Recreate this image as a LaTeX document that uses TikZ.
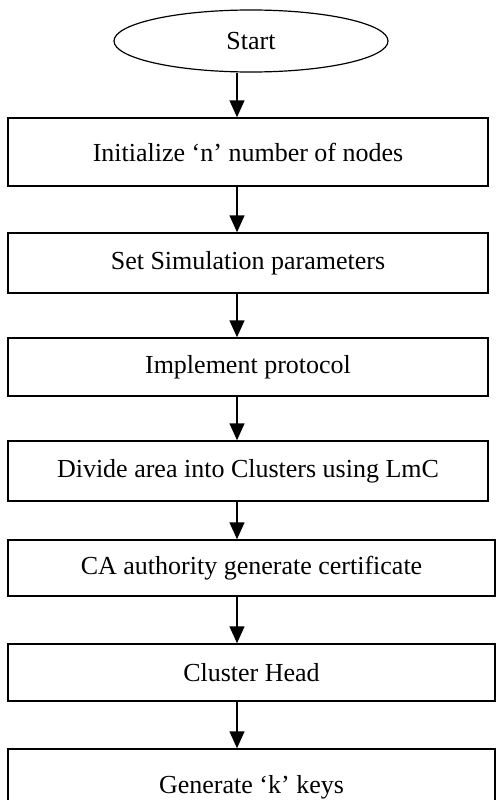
\documentclass[tikz,border=0pt]{standalone}
\usepackage{fontspec}
\setmainfont{Liberation Serif}
\usetikzlibrary{shapes.geometric,arrows.meta}
\tikzset{
  stepbox/.style={draw=black, line width=1.5pt, rectangle, inner sep=0pt, align=center,
    font=\fontsize{26}{30}\selectfont},
  startnode/.style={draw=black, line width=1.2pt, ellipse, inner sep=0pt,
    minimum width=274pt, minimum height=62pt, font=\fontsize{26}{30}\selectfont},
  arr/.style={line width=1.5pt, -{Triangle[length=17pt,width=15pt]}}
}
\begin{document}
\begin{tikzpicture}[x=1pt,y=-1pt]
\clip (0,0) rectangle (496,800);
\useasboundingbox (0,0) rectangle (496,800);
\coordinate (ax) at (237,0);
\node[startnode] (start) at (251,41) {Start};
\node[stepbox, minimum width=480pt, minimum height=68pt] (b1) at (248,152) {Initialize ‘n’ number of nodes};
\node[stepbox, minimum width=480pt, minimum height=60pt] (b2) at (248,263) {Set Simulation parameters};
\node[stepbox, minimum width=480pt, minimum height=58pt] (b3) at (248,367) {Implement protocol};
\node[stepbox, minimum width=480pt, minimum height=60pt] (b4) at (248,471) {Divide area into Clusters using LmC};
\node[stepbox, minimum width=487pt, minimum height=56pt] (b5) at (251.5,568) {CA authority generate certificate};
\node[stepbox, minimum width=487pt, minimum height=57pt] (b6) at (251.5,672.5) {Cluster Head};
\node[stepbox, minimum width=487pt, minimum height=77pt] (b7) at (251.5,787.5) {Generate ‘k’ keys};
\draw[arr] (start.south -| ax) -- (b1.north -| ax);
\draw[arr] (b1.south -| ax) -- (b2.north -| ax);
\draw[arr] (b2.south -| ax) -- (b3.north -| ax);
\draw[arr] (b3.south -| ax) -- (b4.north -| ax);
\draw[arr] (b4.south -| ax) -- (b5.north -| ax);
\draw[arr] (b5.south -| ax) -- (b6.north -| ax);
\draw[arr] (b6.south -| ax) -- (b7.north -| ax);
\end{tikzpicture}
\end{document}
